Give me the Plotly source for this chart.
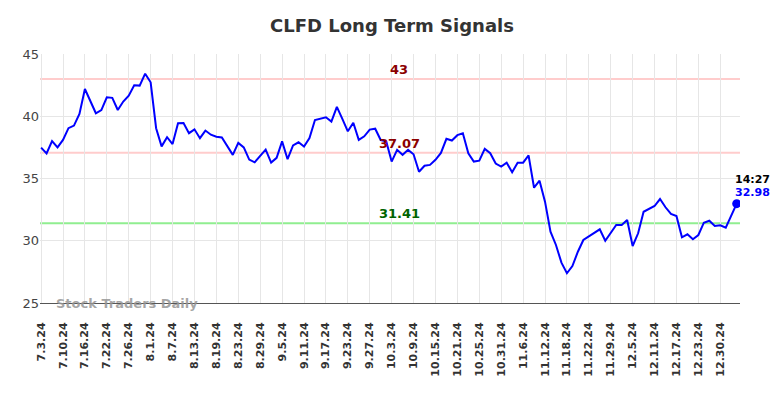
import plotly.graph_objects as go
import pandas as pd

# Trading-day dates (US market holidays removed)
holidays = ["2024-07-04", "2024-09-02", "2024-11-28", "2024-12-25", "2025-01-01"]
dates = [d for d in pd.bdate_range("2024-07-03", "2025-01-03") if d.strftime("%Y-%m-%d") not in holidays]
labels = [f"{d.month}.{d.day}.{d.strftime('%y')}" for d in dates]

prices = [
    37.48, 37.01, 38.00, 37.50, 38.10, 39.04, 39.25, 40.18, 42.19, 41.20,
    40.24, 40.50, 41.52, 41.48, 40.50, 41.18, 41.65, 42.49, 42.46, 43.42,
    42.73, 39.04, 37.58, 38.32, 37.77, 39.44, 39.45, 38.64, 38.95, 38.24,
    38.85, 38.52, 38.36, 38.30, 37.58, 36.90, 37.86, 37.50, 36.52, 36.30,
    36.82, 37.32, 36.28, 36.66, 37.98, 36.55, 37.66, 37.91, 37.57, 38.24,
    39.70, 39.79, 39.92, 39.57, 40.76, 39.79, 38.79, 39.48, 38.10, 38.39,
    38.93, 39.00, 38.09, 38.00, 36.36, 37.30, 36.90, 37.30, 36.95, 35.54,
    36.02, 36.09, 36.50, 37.05, 38.19, 38.05, 38.48, 38.63, 37.03, 36.36,
    36.43, 37.38, 37.03, 36.20, 35.96, 36.27, 35.51, 36.27, 36.27, 36.85,
    34.26, 34.82, 33.14, 30.73, 29.66, 28.24, 27.39, 27.97, 29.12, 30.06,
    30.33, 30.65, 30.92, 30.00, 30.65, 31.27, 31.27, 31.67, 29.58, 30.60,
    32.33, 32.53, 32.79, 33.35, 32.69, 32.15, 31.99, 30.28, 30.52, 30.12,
    30.46, 31.45, 31.61, 31.18, 31.24, 31.05, 32.00, 32.98,
]
labels = labels[:len(prices)]

tick_labels = labels[::4]
y_ticks = [25, 30, 35, 40, 45]
resistance_high = 43
resistance_mid = 37.07
support = 31.41
last_time = "14:27"

font_family = "DejaVu Sans, Verdana, sans-serif"

fig = go.Figure()
fig.add_trace(go.Scatter(
    x=labels, y=prices, mode="lines",
    line=dict(color="#0000ff", width=2), hoverinfo="skip", showlegend=False,
))
fig.add_trace(go.Scatter(
    x=[labels[-1]], y=[prices[-1]], mode="markers",
    marker=dict(color="#0000ff", size=9), showlegend=False,
))

for val, col in [(resistance_high, "#ffcccc"), (resistance_mid, "#ffcccc"), (support, "#90ee90")]:
    fig.add_hline(y=val, line=dict(color=col, width=2), layer="below")

ann_x = 0.513
fig.add_annotation(x=ann_x, xref="paper", y=resistance_high, yref="y", text=f"<b>{resistance_high}</b>",
                   showarrow=False, yanchor="bottom", yshift=0,
                   font=dict(family=font_family, size=13, color="#8b0000"))
fig.add_annotation(x=ann_x, xref="paper", y=resistance_mid, yref="y", text=f"<b>{resistance_mid}</b>",
                   showarrow=False, yanchor="bottom", yshift=0,
                   font=dict(family=font_family, size=13, color="#8b0000"))
fig.add_annotation(x=ann_x, xref="paper", y=support, yref="y", text=f"<b>{support}</b>",
                   showarrow=False, yanchor="bottom", yshift=0,
                   font=dict(family=font_family, size=13, color="#006400"))

fig.add_annotation(x=0.02, xref="paper", y=25, yref="y", text="<b>Stock Traders Daily</b>",
                   showarrow=False, xanchor="left", yanchor="middle",
                   font=dict(family=font_family, size=13, color="rgba(150,150,150,0.85)"))

fig.add_annotation(x=labels[-1], y=prices[-1], text=f"<b>{last_time}</b>", showarrow=False,
                   xanchor="left", yanchor="bottom", xshift=-4, yshift=16,
                   font=dict(family=font_family, size=11, color="#000000"))
fig.add_annotation(x=labels[-1], y=prices[-1], text=f"<b>{prices[-1]:.2f}</b>", showarrow=False,
                   xanchor="left", yanchor="bottom", xshift=-4, yshift=3,
                   font=dict(family=font_family, size=11, color="#0000ff"))

fig.update_layout(
    width=768, height=382,
    margin=dict(l=32, r=36, t=46, b=87),
    paper_bgcolor="white", plot_bgcolor="white",
    title=dict(text="<b>CLFD Long Term Signals</b>", x=0.5, xanchor="center", y=0.953, yanchor="middle",
               font=dict(family=font_family, size=18, color="#333333")),
    font=dict(family=font_family, color="#333333"),
    xaxis=dict(type="category", tickmode="array", tickvals=tick_labels,
               ticktext=[f"<b>{t}</b>" for t in tick_labels],
               tickangle=-90, tickfont=dict(size=11, color="#333333"),
               ticklabelstandoff=14,
               showgrid=True, gridcolor="#e6e6e6", gridwidth=1,
               showline=True, linecolor="#555555", linewidth=1,
               range=[-0.2, len(prices) - 0.4], ticks="", fixedrange=True),
    yaxis=dict(range=[25, 45], tickvals=y_ticks, tickfont=dict(size=13, color="#444444"),
               showgrid=True, gridcolor="#e6e6e6", gridwidth=1, zeroline=False,
               ticks="", fixedrange=True),
)

fig.write_html("out.html")
